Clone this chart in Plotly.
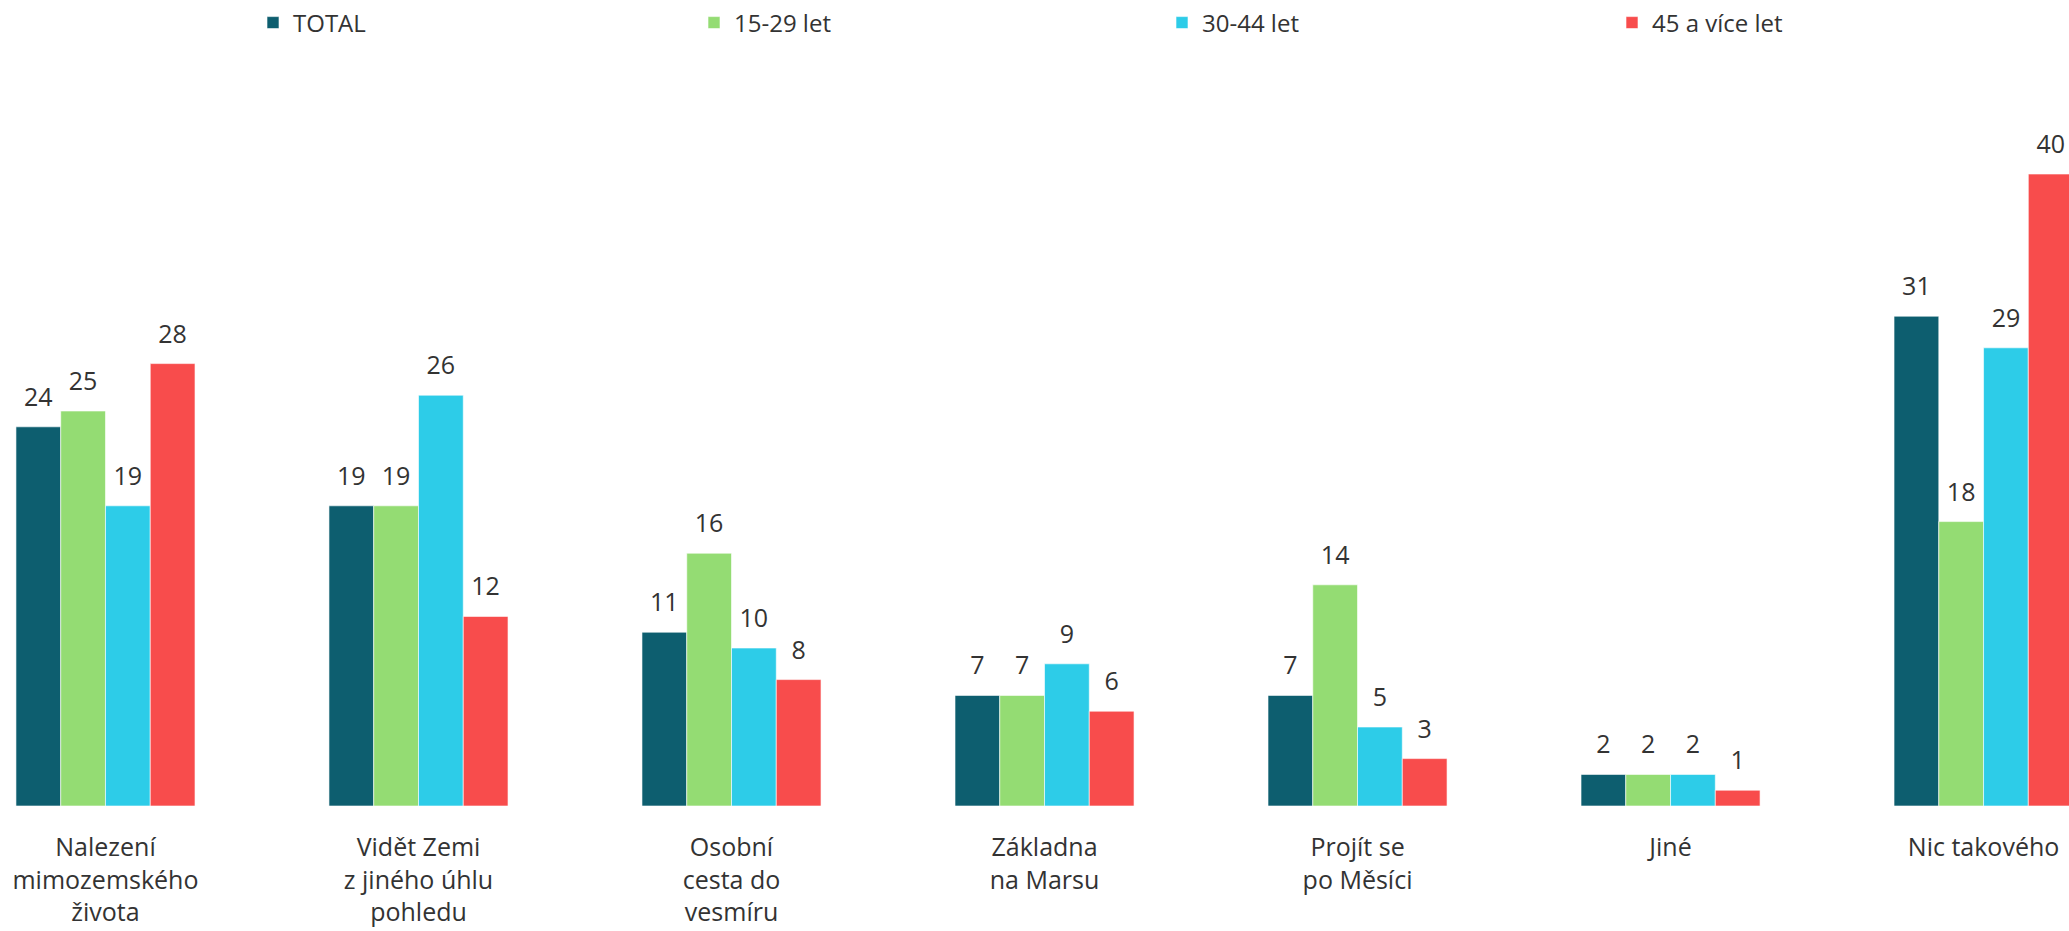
import plotly.graph_objects as go

categories = [
    "Nalezení<br>mimozemského<br>života",
    "Vidět Zemi<br>z jiného úhlu<br>pohledu",
    "Osobní<br>cesta do<br>vesmíru",
    "Základna<br>na Marsu",
    "Projít se<br>po Měsíci",
    "Jiné",
    "Nic takového",
]
series_names = ["TOTAL", "15-29 let", "30-44 let", "45 a více let"]
total = [24, 19, 11, 7, 7, 2, 31]
age_15_29 = [25, 19, 16, 7, 14, 2, 18]
age_30_44 = [19, 26, 10, 9, 5, 2, 29]
age_45_plus = [28, 12, 8, 6, 3, 1, 40]

series_values = [total, age_15_29, age_30_44, age_45_plus]
colors = ["#0d5e6f", "#94dc73", "#2dcce8", "#f84c4c"]
legend_x_px = [253, 694, 1162, 1612]

W, H = 2069, 931
FONT = "Open Sans"
TEXT_COLOR = "#333333"
BARGAP = 0.428

fig = go.Figure()
for i, (name, vals, col) in enumerate(zip(series_names, series_values, colors)):
    leg = "legend" if i == 0 else f"legend{i+1}"
    fig.add_trace(go.Bar(
        x=categories, y=vals, name=name,
        marker=dict(color=col, line=dict(color="rgba(255,255,255,0.6)", width=1)),
        legend=leg, offsetgroup=str(i),
    ))
for i, (name, vals) in enumerate(zip(series_names, series_values)):
    fig.add_trace(go.Scatter(
        x=categories, y=vals, mode="markers+text", text=[str(v) for v in vals],
        textposition="top center",
        textfont=dict(family=FONT, size=25, color=TEXT_COLOR),
        marker=dict(size=22, opacity=0),
        showlegend=False, hoverinfo="skip", offsetgroup=str(i),
    ))

layout_legends = {}
for i in range(4):
    key = "legend" if i == 0 else f"legend{i+1}"
    layout_legends[key] = dict(
        x=legend_x_px[i] / W, xanchor="left",
        y=(806 - 23) / 790, yanchor="middle",
        orientation="h", bgcolor="rgba(0,0,0,0)",
        font=dict(family=FONT, size=24, color=TEXT_COLOR),
    )

fig.update_layout(
    width=W, height=H,
    margin=dict(l=0, r=0, t=16, b=125),
    paper_bgcolor="white", plot_bgcolor="white",
    barmode="group", bargap=BARGAP, bargroupgap=0,
    scattermode="group", scattergap=BARGAP,
    font=dict(family=FONT, color=TEXT_COLOR),
    xaxis=dict(
        range=[-0.337, 6.273], showgrid=False, zeroline=False, showline=False,
        ticks="", tickfont=dict(family=FONT, size=25, color=TEXT_COLOR),
        ticklabelstandoff=24, automargin=False,
    ),
    yaxis=dict(range=[0, 50], visible=False, showgrid=False, zeroline=False),
    **layout_legends,
)

fig.write_html(
    "out.html",
    config={"displayModeBar": False},
    post_script="document.body.style.margin='0';document.body.style.overflow='hidden';",
)
